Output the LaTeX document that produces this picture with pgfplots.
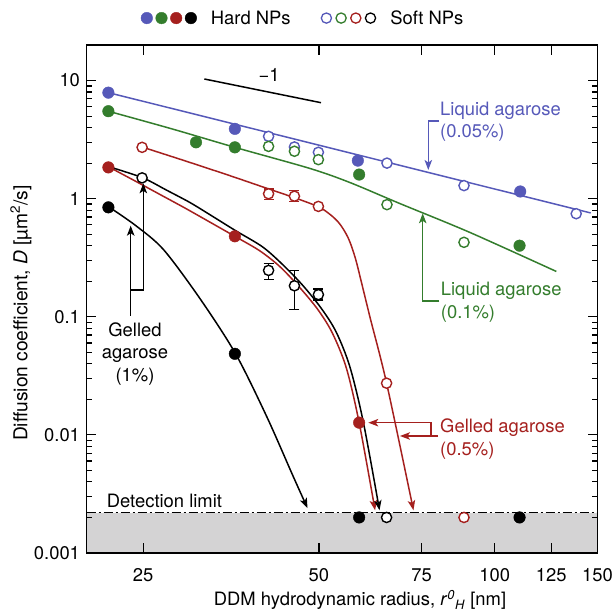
\documentclass[border=0pt]{standalone}
\usepackage{fontspec}
\setmainfont{TeX Gyre Heros}
\usepackage{pgfplots}
\pgfplotsset{compat=1.18}
\usetikzlibrary{arrows.meta}
\definecolor{cb}{RGB}{86,89,185}
\definecolor{cg}{RGB}{52,125,45}
\definecolor{cr}{RGB}{165,32,30}
\definecolor{cfill}{RGB}{212,211,212}
\begin{document}
\begin{tikzpicture}[font=\fontsize{18.4}{22}\selectfont, >={Stealth[length=10pt,width=7.5pt,inset=2.5pt]}]
\begin{axis}[
  scale only axis, width=511pt, height=508pt,
  xmode=log, ymode=log, xmin=20, xmax=150, ymin=0.001, ymax=20,
  xtick={25,50,75,100,125,150}, xticklabels={25,50,75,100,125,150},
  minor xtick={},
  ytick={0.001,0.01,0.1,1,10}, yticklabels={0.001,0.01,0.1,1,10},
  minor ytick={0.002,0.003,0.004,0.005,0.006,0.007,0.008,0.009,0.02,0.03,0.04,0.05,0.06,0.07,0.08,0.09,0.2,0.3,0.4,0.5,0.6,0.7,0.8,0.9,2,3,4,5,6,7,8,9},
  tick align=inside,
  major tick length=10pt, minor tick length=6pt,
  every tick/.style={black, line width=1.2pt},
  axis line style={line width=1.5pt},
  tick label style={font=\fontsize{18.4}{22}\selectfont},
  yticklabel style={xshift=-3pt},
  xticklabel style={yshift=-12pt},
  axis on top,
  /pgf/number format/assume math mode=true,
  legend columns=2,
  legend style={draw=none, fill=none, at={(axis description cs:0.1,1.053)}, anchor=west,
    font=\fontsize{18.4}{22}\selectfont,
    /tikz/every odd column/.append style={column sep=12pt},
    /tikz/every even column/.append style={column sep=28pt}},
]
% legend
\addlegendimage{legend image code/.code={
  \fill[cb] (0pt,0pt) circle (5.8pt);
  \fill[cg] (14.7pt,0pt) circle (5.8pt);
  \fill[cr] (29.4pt,0pt) circle (5.8pt);
  \fill[black] (44.1pt,0pt) circle (5.8pt);}}
\addlegendentry{Hard NPs}
\addlegendimage{legend image code/.code={
  \draw[cb, line width=1.3pt, fill=white] (0pt,0pt) circle (5.1pt);
  \draw[cg, line width=1.3pt, fill=white] (14.7pt,0pt) circle (5.1pt);
  \draw[cr, line width=1.3pt, fill=white] (29.4pt,0pt) circle (5.1pt);
  \draw[black, line width=1.3pt, fill=white] (44.1pt,0pt) circle (5.1pt);}}
\addlegendentry{Soft NPs}

% below detection limit
\addplot[fill=cfill, draw=none, forget plot] coordinates {(20,0.001) (150,0.001) (150,0.0022) (20,0.0022)} -- cycle;
\addplot[black, line width=1.1pt, dash pattern=on 9pt off 3pt on 2pt off 3pt, forget plot] coordinates {(20,0.0022) (150,0.0022)};

% fitted curves
\addplot[cb, line width=1.5pt, forget plot] coordinates {(21.8,7.9) (146,0.757)};
\addplot[cg, line width=1.5pt, smooth, forget plot] coordinates {(21.8,5.5) (28.0,3.9) (35.9,2.72) (48.3,1.8) (56.5,1.37) (68.9,0.907) (90.5,0.52) (127.5,0.242)};
\addplot[cr, line width=1.5pt, smooth, ->, forget plot] coordinates {(25.0,2.72) (29.7,2.067) (35.2,1.566) (40.4,1.24) (46.4,0.981) (50.6,0.823) (53.9,0.638) (56.1,0.467) (57.7,0.316) (59.1,0.198) (61.2,0.098) (65.3,0.0274) (72.6,0.0023)};
\addplot[cr, line width=1.5pt, smooth, ->, forget plot] coordinates {(21.9,1.842) (24.2,1.415) (26.7,1.087) (29.5,0.832) (32.55,0.632) (35.9,0.48) (39.6,0.362) (42.9,0.265) (46.4,0.176) (49.8,0.115) (52.7,0.0732) (55.7,0.037) (58.6,0.0127) (62.4,0.0023)};
\addplot[black, line width=1.5pt, smooth, ->, forget plot] coordinates {(22.2,1.82) (25.0,1.497) (27.4,1.183) (30.1,0.925) (32.9,0.707) (36.0,0.536) (40.0,0.392) (43.2,0.281) (46.8,0.187) (50.4,0.119) (53.5,0.0746) (56.5,0.0377) (59.6,0.0127) (63.5,0.0023)};
\addplot[black, line width=1.5pt, smooth, ->, forget plot] coordinates {(21.9,0.844) (24.3,0.59) (27.1,0.37) (31.3,0.142) (36.0,0.0486) (40.7,0.0143) (45.2,0.00443) (47.8,0.0024)};

% hard NPs (filled)
\addplot[only marks, mark=*, mark size=5.8pt, mark options={draw=cb, fill=cb}, forget plot] coordinates {(21.8,7.9) (35.9,3.9) (58.3,2.1) (110.6,1.15)};
\addplot[only marks, mark=*, mark size=5.8pt, mark options={draw=cg, fill=cg}, forget plot] coordinates {(21.8,5.5) (30.8,3.0) (35.9,2.72) (58.6,1.6) (110.3,0.4)};
\addplot[only marks, mark=*, mark size=5.8pt, mark options={draw=cr, fill=cr}, forget plot] coordinates {(21.8,1.84) (35.9,0.48) (58.6,0.0127)};
\addplot[only marks, mark=*, mark size=5.8pt, mark options={draw=black, fill=black}, forget plot] coordinates {(21.8,0.844) (35.9,0.0486) (58.6,0.002) (110.3,0.002)};

% soft NPs (open)
\addplot[only marks, mark=*, mark size=5.1pt, mark options={draw=cb, fill=white, line width=1.4pt}, forget plot] coordinates {(41,3.37) (45.4,2.74) (49.9,2.47) (65.4,2.0) (88.6,1.29) (137.9,0.746)};
\addplot[only marks, mark=*, mark size=5.1pt, mark options={draw=cg, fill=white, line width=1.4pt}, forget plot] coordinates {(41,2.77) (45.4,2.52) (49.9,2.14) (65.4,0.89) (88.6,0.427)};
\addplot[only marks, mark=*, mark size=5.1pt, mark options={draw=cr, fill=white, line width=1.4pt}, forget plot,
  error bars/.cd, y dir=both, y explicit, error bar style={cr, line width=1.3pt},
  error mark=-, error mark options={cr, mark size=5pt, line width=1.3pt, rotate=90}]
  coordinates {(41,1.1) += (0,0.11) -= (0,0.12) (45.4,1.05) += (0,0.12) -= (0,0.11)};
\addplot[only marks, mark=*, mark size=5.1pt, mark options={draw=cr, fill=white, line width=1.4pt}, forget plot] coordinates {(24.9,2.72) (49.9,0.86) (65.3,0.0274) (88.6,0.002)};
\addplot[only marks, mark=*, mark size=5.1pt, mark options={draw=black, fill=white, line width=1.4pt}, forget plot,
  error bars/.cd, y dir=both, y explicit, error bar style={black, line width=1.3pt},
  error mark=-, error mark options={black, mark size=5pt, line width=1.3pt, rotate=90}]
  coordinates {(41,0.247) += (0,0.034) -= (0,0.041) (45.4,0.183) += (0,0.064) -= (0,0.067) (49.9,0.154) += (0,0.018) -= (0,0.015)};
\addplot[only marks, mark=*, mark size=5.1pt, mark options={draw=black, fill=white, line width=1.4pt}, forget plot] coordinates {(24.9,1.5) (65.3,0.002)};
\end{axis}

\begin{scope}[x=1pt, y=-1pt, shift={(-86.5pt,553pt)}]
  % slope -1
  \draw[black, line width=1.5pt] (204.3,79) -- (321,102.7);
  \node[inner sep=0pt] at (269,75) {\char"2212 1};
  % blue
  \node[inner sep=0pt, anchor=base west, text=cb] at (440,116) {Liquid agarose};
  \node[inner sep=0pt, anchor=base west, text=cb] at (440,138) {(0.05\%)};
  \draw[cb, line width=1.3pt, ->] (439,121) -- (428.3,121) -- (428.3,170);
  % green
  \node[inner sep=0pt, anchor=base west, text=cg] at (440.7,296) {Liquid agarose};
  \node[inner sep=0pt, anchor=base west, text=cg] at (440.7,318.5) {(0.1\%)};
  \draw[cg, line width=1.3pt, ->] (439.3,301) -- (422.7,301) -- (422.7,213.3);
  % red
  \node[inner sep=0pt, anchor=base west, text=cr] at (440,433) {Gelled agarose};
  \node[inner sep=0pt, anchor=base west, text=cr] at (440,456) {(0.5\%)};
  \draw[cr, line width=1.3pt, ->] (431,436) -- (431,422.7) -- (368.3,422.7);
  \draw[cr, line width=1.3pt, ->] (438,436) -- (400,436);
  % black
  \node[inner sep=0pt, anchor=base] at (135,336.5) {Gelled};
  \node[inner sep=0pt, anchor=base] at (135,359) {agarose};
  \node[inner sep=0pt, anchor=base] at (135,381.5) {(1\%)};
  \draw[black, line width=1.3pt, ->] (130.7,316) -- (130.7,225.7);
  \draw[black, line width=1.3pt, ->] (130.7,290) -- (143.3,290) -- (143.3,183.3);
  % detection limit
  \node[inner sep=0pt, anchor=base west] at (106.7,508) {Detection limit};
  % axis labels
  \node[inner sep=0pt, rotate=90, font=\fontsize{19.2}{22}\selectfont] at (21,313) {Diffusion coefficient, \textit{D} [µm\textsuperscript{2}/s]};
  \node[inner sep=0pt] at (360,600) {DDM hydrodynamic radius, \textit{r}\textsuperscript{\textit{0}}\textsubscript{\textit{H}} [nm]};
  \pgfresetboundingbox
  \path[use as bounding box] (0,0) rectangle (612,612);
\end{scope}
\end{tikzpicture}
\end{document}
